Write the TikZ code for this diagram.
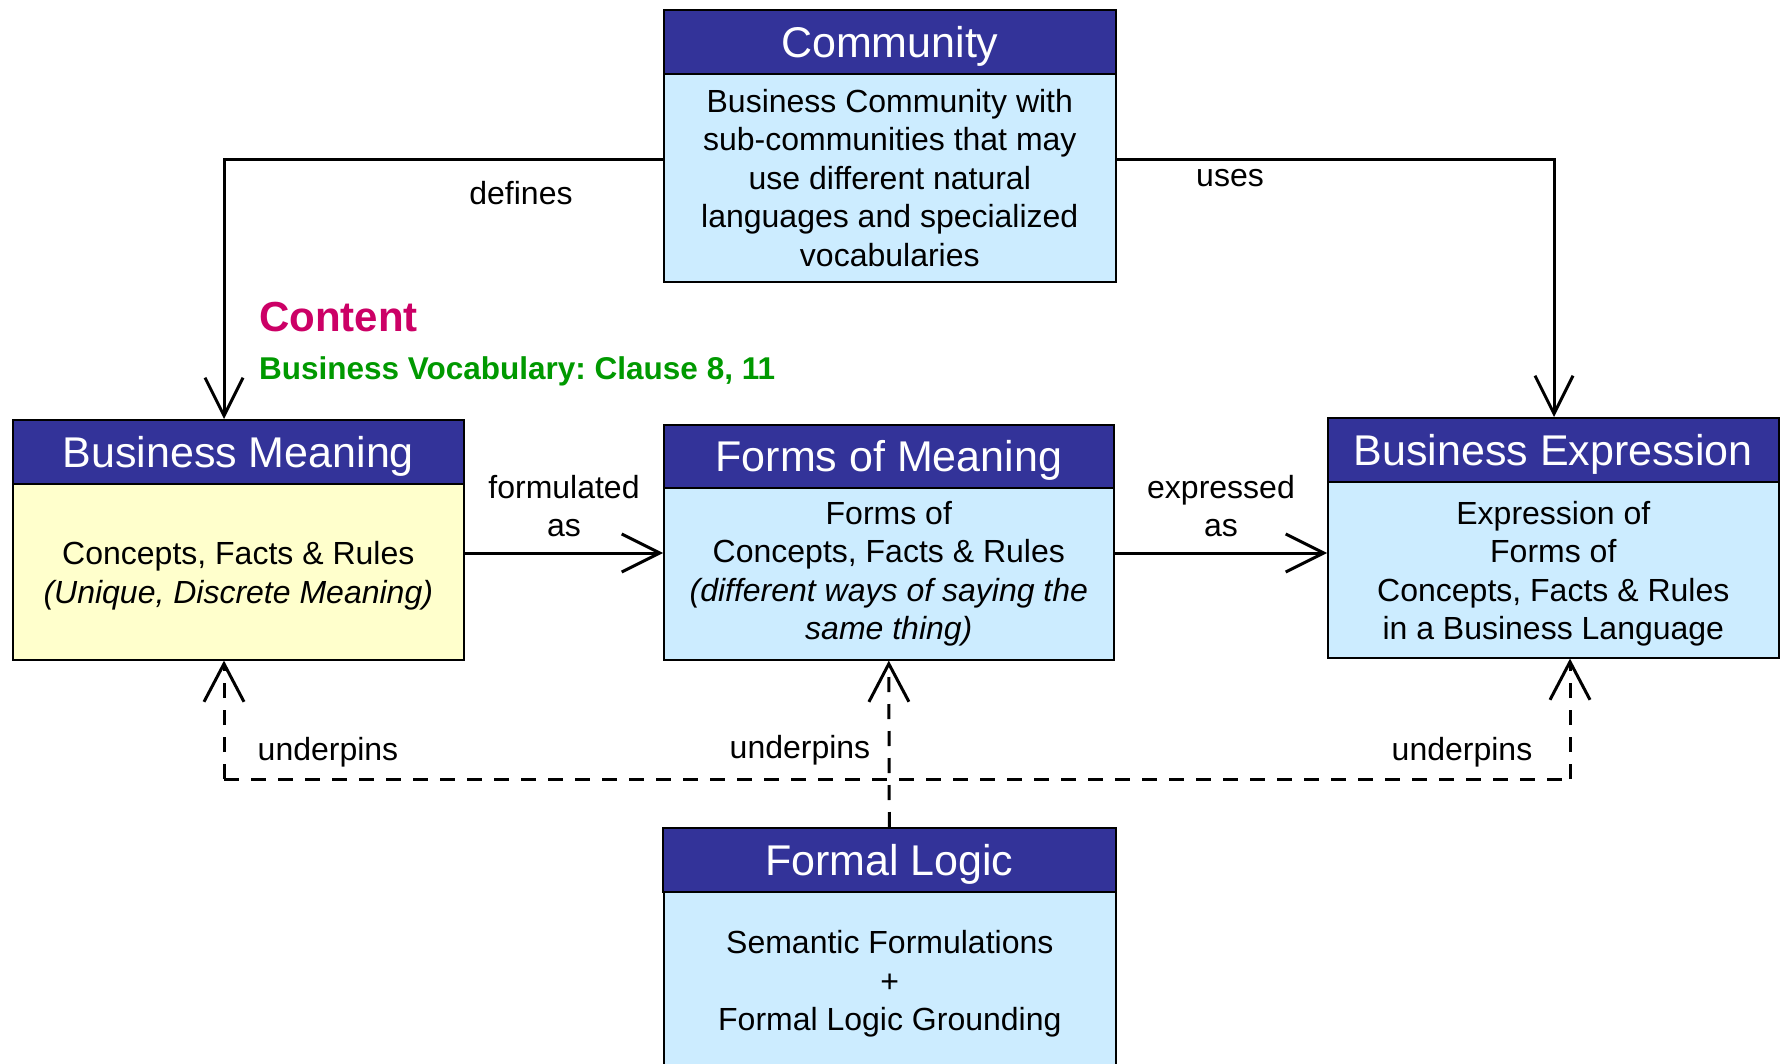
\documentclass[tikz,border=0pt]{standalone}
\usepackage{fontspec}
\setmainfont{Liberation Sans}
\usetikzlibrary{arrows.meta}
\definecolor{hblue}{HTML}{333399}
\definecolor{lblue}{HTML}{CCECFF}
\definecolor{lyellow}{HTML}{FFFFCC}
\definecolor{cmag}{HTML}{CC0066}
\definecolor{cgreen}{HTML}{009900}
\frenchspacing
\begin{document}
\begin{tikzpicture}[x=1pt,y=-1pt,
  hdr/.style={draw=black, fill=hblue, text=white, line width=1.6pt, inner sep=0pt,
    anchor=north west, text height=30.8pt, text depth=0pt, font=\fontsize{43}{50}\selectfont},
  bdy/.style={draw=black, fill=lblue, line width=1.6pt, inner sep=0pt, anchor=north west,
    align=center, font=\fontsize{32}{38.5}\selectfont},
  lbl/.style={align=center, inner sep=0pt, font=\fontsize{32}{38.5}\selectfont},
  arr/.style={line width=3pt, -{Straight Barb[length=38pt,width=38pt,line width=3pt]}},
  darr/.style={line width=3pt, dash pattern=on 15pt off 12pt, -{Straight Barb[length=38pt,width=40pt,line width=3pt,sep=0pt]}},
  dsh/.style={line width=3pt, dash pattern=on 15pt off 12pt}
]
\clip (0,0) rectangle (1781,1064);
\fill[white] (0,0) rectangle (1781,1064);

% Community
\node[bdy, minimum width=452pt, minimum height=208pt] (comB) at (663,73)
  {Business Community with\\sub-communities that may\\use different natural\\languages and specialized\\vocabularies};
\node[hdr, minimum width=452pt, minimum height=64pt] (comH) at (663,9) {Community};

% Business Meaning
\node[bdy, fill=lyellow, minimum width=451pt, minimum height=176pt] (bmB) at (12,483)
  {\rule{0pt}{0pt}\\[-7.5pt]Concepts, Facts \& Rules\\\textit{(Unique, Discrete Meaning)}};
\node[hdr, minimum width=451pt, minimum height=64pt] (bmH) at (12,419) {Business Meaning};

% Forms of Meaning
\node[bdy, minimum width=450pt, minimum height=172pt] (fmB) at (663,487)
  {Forms of\\Concepts, Facts \& Rules\\\textit{(different ways of saying the}\\\textit{same thing)}};
\node[hdr, minimum width=450pt, minimum height=63pt] (fmH) at (663,424) {Forms of Meaning};

% Business Expression
\node[bdy, minimum width=451pt, minimum height=176pt] (beB) at (1327,481)
  {\rule{0pt}{0pt}\\[-7.5pt]Expression of\\Forms of\\Concepts, Facts \& Rules\\in a Business Language};
\node[hdr, minimum width=451pt, minimum height=64pt] (beH) at (1327,417) {Business Expression};

% Formal Logic
\node[bdy, minimum width=452pt, minimum height=184pt] (flB) at (663,891)
  {Semantic Formulations\\+\\Formal Logic Grounding};
\node[hdr, minimum width=453pt, minimum height=64pt] (flH) at (662,827) {Formal Logic};

% coordinates
\coordinate (defX) at (224,160);
\coordinate (useX) at (1554,160);
\coordinate (rowY) at (0,553);
\coordinate (dl) at (224,779);
\coordinate (dr) at (1570,779);

% solid connectors
\draw[arr] (comB.west |- defX) -- (defX) -- (defX |- bmH.north);
\draw[arr] (comB.east |- useX) -- (useX) -- (useX |- beH.north);
\draw[arr] (bmB.east |- rowY) -- (fmB.west |- rowY);
\draw[arr] (fmB.east |- rowY) -- (beB.west |- rowY);

% dashed connectors
\draw[dsh] (dl) -- (dr);
\draw[darr] (dl) -- (dl |- bmB.south);
\draw[darr] (dr) -- (dr |- beB.south);
\draw[darr] (flH.north) -- (fmB.south);

% labels
\node[lbl] (lDef) at (521,193) {defines};
\node[lbl] (lUse) at (1230,178) {uses};
\node[lbl] (lForm) at (564,506) {formulated\\as};
\node[lbl] (lExp) at (1221,506) {expressed\\as};
\node[lbl] (lU1) at (328,752) {underpins};
\node[lbl] (lU2) at (800,750) {underpins};
\node[lbl] (lU3) at (1462,752) {underpins};
\node[anchor=west, inner sep=0pt, text=cmag, font=\fontsize{42}{48}\selectfont\bfseries] (content) at (259,317) {Content};
\node[anchor=west, inner sep=0pt, text=cgreen, font=\fontsize{31.5}{36}\selectfont\bfseries] (bvoc) at (259,371) {Business Vocabulary: Clause 8, 11};
\end{tikzpicture}
\end{document}
